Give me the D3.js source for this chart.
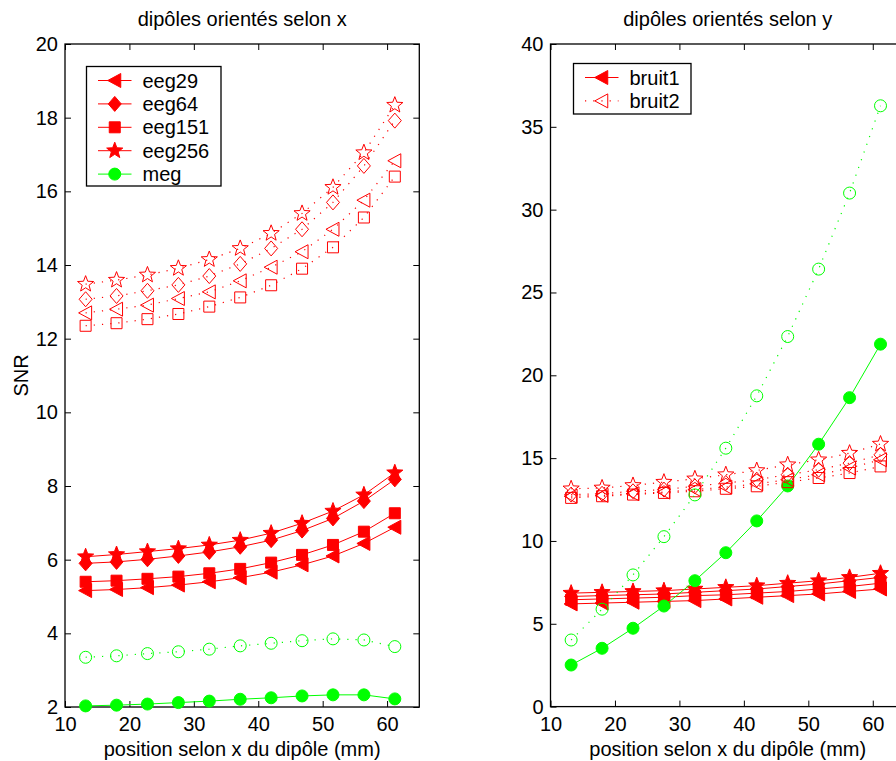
<!DOCTYPE html>
<html>
<head>
<meta charset="utf-8">
<script src="https://cdn.jsdelivr.net/npm/d3@7"></script>
<style>
  html, body { margin: 0; padding: 0; background: #fff; }
  svg { display: block; }
  text { font-family: "Liberation Sans", Arial, Helvetica, sans-serif; fill: #000; }
</style>
</head>
<body>
<svg id="chart" width="896" height="761"></svg>
<script>
// ---------------- DATA ----------------
const xPositions = [13.2, 18, 22.8, 27.6, 32.4, 37.2, 42, 46.8, 51.6, 56.4, 61.2];
const seriesNames = ["eeg29", "eeg64", "eeg151", "eeg256", "meg"];
const noiseNames = ["bruit1", "bruit2"];
const titles = ["dipôles orientés selon x", "dipôles orientés selon y"];
const xLabel = "position selon x du dipôle (mm)";
const yLabel = "SNR";
const xTicks = [10, 20, 30, 40, 50, 60];
const yTicksLeft = [2, 4, 6, 8, 10, 12, 14, 16, 18, 20];
const yTicksRight = [0, 5, 10, 15, 20, 25, 30, 35, 40];

// Panel 1 : dipôles orientés selon x  (bruit1 = solid/filled, bruit2 = dotted/open)
const xEeg29B1  = [5.16, 5.19, 5.24, 5.31, 5.40, 5.51, 5.66, 5.86, 6.10, 6.44, 6.88];
const xEeg64B1  = [5.90, 5.94, 6.01, 6.10, 6.21, 6.35, 6.53, 6.79, 7.12, 7.59, 8.18];
const xEeg151B1 = [5.40, 5.43, 5.48, 5.54, 5.63, 5.75, 5.92, 6.13, 6.40, 6.76, 7.26];
const xEeg256B1 = [6.08, 6.14, 6.22, 6.30, 6.40, 6.53, 6.72, 6.99, 7.32, 7.76, 8.36];
const xMegB1    = [2.03, 2.05, 2.08, 2.12, 2.16, 2.21, 2.25, 2.30, 2.33, 2.33, 2.22];
const xEeg29B2  = [12.70, 12.80, 12.91, 13.09, 13.27, 13.57, 13.94, 14.36, 14.97, 15.76, 16.83];
const xEeg64B2  = [13.07, 13.16, 13.30, 13.46, 13.70, 14.03, 14.45, 14.97, 15.70, 16.69, 17.92];
const xEeg151B2 = [12.35, 12.42, 12.53, 12.67, 12.87, 13.12, 13.45, 13.90, 14.48, 15.29, 16.40];
const xEeg256B2 = [13.48, 13.59, 13.73, 13.91, 14.15, 14.45, 14.86, 15.40, 16.11, 17.05, 18.34];
const xMegB2    = [3.35, 3.39, 3.45, 3.50, 3.57, 3.66, 3.73, 3.80, 3.85, 3.82, 3.64];

// Panel 2 : dipôles orientés selon y
const yEeg29B1  = [6.20, 6.25, 6.30, 6.35, 6.40, 6.50, 6.60, 6.70, 6.80, 6.95, 7.10];
const yEeg64B1  = [6.65, 6.70, 6.75, 6.80, 6.90, 7.00, 7.10, 7.25, 7.40, 7.60, 7.80];
const yEeg151B1 = [6.45, 6.50, 6.55, 6.60, 6.70, 6.75, 6.85, 6.95, 7.10, 7.25, 7.45];
const yEeg256B1 = [6.85, 6.90, 6.95, 7.00, 7.10, 7.20, 7.30, 7.45, 7.60, 7.80, 8.05];
const yMegB1    = [2.51, 3.52, 4.73, 6.07, 7.60, 9.29, 11.21, 13.32, 15.84, 18.65, 21.88];
const yEeg29B2  = [12.70, 12.75, 12.85, 12.95, 13.10, 13.25, 13.45, 13.70, 14.00, 14.40, 14.90];
const yEeg64B2  = [12.80, 12.85, 13.00, 13.10, 13.30, 13.50, 13.70, 14.00, 14.30, 14.70, 15.20];
const yEeg151B2 = [12.60, 12.70, 12.80, 12.90, 13.00, 13.15, 13.30, 13.55, 13.80, 14.10, 14.50];
const yEeg256B2 = [13.15, 13.20, 13.35, 13.55, 13.75, 14.00, 14.25, 14.60, 14.90, 15.30, 15.85];
const yMegB2    = [4.02, 5.88, 7.95, 10.26, 12.78, 15.60, 18.76, 22.34, 26.41, 31.00, 36.27];

// ---------------- STYLE ----------------
const RED = "#ff0000", GREEN = "#00ff00";
const markerOf = { eeg29: "triLeft", eeg64: "diamond", eeg151: "square", eeg256: "star", meg: "circle" };
const colorOf = { eeg29: RED, eeg64: RED, eeg151: RED, eeg256: RED, meg: GREEN };

function markerPath(type) {
  switch (type) {
    case "triLeft": return "M-7,0L6,-7L6,7Z";
    case "diamond": return "M0,-7.5L6.5,0L0,7.5L-6.5,0Z";
    case "square": return "M-5.5,-5.5H5.5V5.5H-5.5Z";
    case "circle": return "M6,0A6,6 0 1,1 -6,0A6,6 0 1,1 6,0Z";
    case "star": {
      let p = [];
      for (let i = 0; i < 10; i++) {
        const r = i % 2 === 0 ? 8.5 : 3.6;
        const a = -Math.PI / 2 + i * Math.PI / 5;
        p.push([r * Math.cos(a), r * Math.sin(a)]);
      }
      return "M" + p.map(d => d[0].toFixed(2) + "," + d[1].toFixed(2)).join("L") + "Z";
    }
  }
}

const svg = d3.select("#chart");
svg.append("rect").attr("width", 896).attr("height", 761).attr("fill", "#fff");

const panels = [
  {
    title: titles[0], x0: 65, x1: 419.3, y0: 44, y1: 707, yDomain: [2, 20], yTicks: yTicksLeft,
    showYLabel: true,
    solid: { eeg29: xEeg29B1, eeg64: xEeg64B1, eeg151: xEeg151B1, eeg256: xEeg256B1, meg: xMegB1 },
    dotted: { eeg29: xEeg29B2, eeg64: xEeg64B2, eeg151: xEeg151B2, eeg256: xEeg256B2, meg: xMegB2 },
    legend: { x: 86.5, y: 66.5, w: 134.5, h: 119.5, entries: seriesNames.map(n => ({ name: n, type: markerOf[n], color: colorOf[n], dotted: false })) }
  },
  {
    title: titles[1], x0: 550.5, x1: 905, y0: 44, y1: 706.6, yDomain: [0, 40], yTicks: yTicksRight,
    showYLabel: false,
    solid: { eeg29: yEeg29B1, eeg64: yEeg64B1, eeg151: yEeg151B1, eeg256: yEeg256B1, meg: yMegB1 },
    dotted: { eeg29: yEeg29B2, eeg64: yEeg64B2, eeg151: yEeg151B2, eeg256: yEeg256B2, meg: yMegB2 },
    legend: { x: 573.5, y: 63.5, w: 117.5, h: 50.5, entries: [
      { name: noiseNames[0], type: "triLeft", color: RED, dotted: false },
      { name: noiseNames[1], type: "triLeft", color: RED, dotted: true }
    ] }
  }
];

const FONT = 20;

panels.forEach(P => {
  const x = d3.scaleLinear().domain([10, 65]).range([P.x0, P.x1]);
  const y = d3.scaleLinear().domain(P.yDomain).range([P.y1, P.y0]);
  const g = svg.append("g");

  // axes frame & ticks (MATLAB box with inward ticks)
  const axL = g.append("g").attr("transform", `translate(${P.x0},0)`)
    .call(d3.axisLeft(y).tickValues(P.yTicks).tickSize(-6).tickPadding(7).tickFormat(d3.format("d")));
  const axR = g.append("g").attr("transform", `translate(${P.x1},0)`)
    .call(d3.axisRight(y).tickValues(P.yTicks).tickSize(-6).tickFormat(""));
  const axB = g.append("g").attr("transform", `translate(0,${P.y1})`)
    .call(d3.axisBottom(x).tickValues(xTicks).tickSize(-6).tickPadding(10).tickFormat(d3.format("d")));
  const axT = g.append("g").attr("transform", `translate(0,${P.y0})`)
    .call(d3.axisTop(x).tickValues(xTicks).tickSize(-6).tickFormat(""));
  [axL, axR, axB, axT].forEach(a => {
    a.selectAll(".tick line").attr("stroke", "#000").attr("stroke-width", 1);
    a.selectAll("text").style("font-size", FONT + "px").attr("fill", "#000")
      .style("font-family", '"Liberation Sans", Arial, sans-serif');
    a.select(".domain").remove();
  });
  g.append("rect").attr("x", P.x0).attr("y", P.y0).attr("width", P.x1 - P.x0).attr("height", P.y1 - P.y0)
    .attr("fill", "none").attr("stroke", "#000").attr("stroke-width", 1.3);

  // title
  g.append("text").attr("x", (P.x0 + P.x1) / 2).attr("y", 26).attr("text-anchor", "middle")
    .style("font-size", FONT + "px").text(P.title);
  // xlabel
  g.append("text").attr("x", (P.x0 + P.x1) / 2).attr("y", 756).attr("text-anchor", "middle")
    .style("font-size", FONT + "px").text(xLabel);
  if (P.showYLabel) {
    g.append("text").attr("transform", `translate(28,${(P.y0 + P.y1) / 2}) rotate(-90)`)
      .attr("text-anchor", "middle").style("font-size", FONT + "px").text(yLabel);
  }

  const line = d3.line().x((d, i) => x(xPositions[i])).y(d => y(d));
  const plot = g.append("g");

  // solid lines + filled markers
  seriesNames.forEach(n => {
    const vals = P.solid[n];
    plot.append("path").datum(vals).attr("d", line).attr("fill", "none")
      .attr("stroke", colorOf[n]).attr("stroke-width", 1);
    plot.selectAll(null).data(vals).enter().append("path")
      .attr("transform", (d, i) => `translate(${x(xPositions[i])},${y(d)})`)
      .attr("d", markerPath(markerOf[n])).attr("fill", colorOf[n]).attr("stroke", colorOf[n]).attr("stroke-width", 1);
  });
  // dotted lines + open markers
  seriesNames.forEach(n => {
    const vals = P.dotted[n];
    plot.append("path").datum(vals).attr("d", line).attr("fill", "none")
      .attr("stroke", colorOf[n]).attr("stroke-width", 1.2).attr("stroke-dasharray", "1.2 7");
    plot.selectAll(null).data(vals).enter().append("path")
      .attr("transform", (d, i) => `translate(${x(xPositions[i])},${y(d)})`)
      .attr("d", markerPath(markerOf[n])).attr("fill", "none").attr("stroke", colorOf[n]).attr("stroke-width", 1);
  });

  // legend
  const L = P.legend;
  const lg = g.append("g");
  lg.append("rect").attr("x", L.x).attr("y", L.y).attr("width", L.w).attr("height", L.h)
    .attr("fill", "#fff").attr("stroke", "#000").attr("stroke-width", 1.3);
  L.entries.forEach((e, i) => {
    const cy = L.y + 14 + i * 23.4;
    const lx0 = L.x + 11.5, lx1 = L.x + 45, mx = (lx0 + lx1) / 2;
    lg.append("line").attr("x1", lx0).attr("x2", lx1).attr("y1", cy).attr("y2", cy)
      .attr("stroke", e.color).attr("stroke-width", e.dotted ? 1.2 : 1)
      .attr("stroke-dasharray", e.dotted ? "1.2 7" : null);
    lg.append("path").attr("transform", `translate(${mx},${cy})`).attr("d", markerPath(e.type))
      .attr("fill", e.dotted ? "none" : e.color).attr("stroke", e.color).attr("stroke-width", 1);
    lg.append("text").attr("x", L.x + 56).attr("y", cy).attr("dy", "0.35em")
      .style("font-size", FONT + "px").text(e.name);
  });
});
</script>
</body>
</html>
